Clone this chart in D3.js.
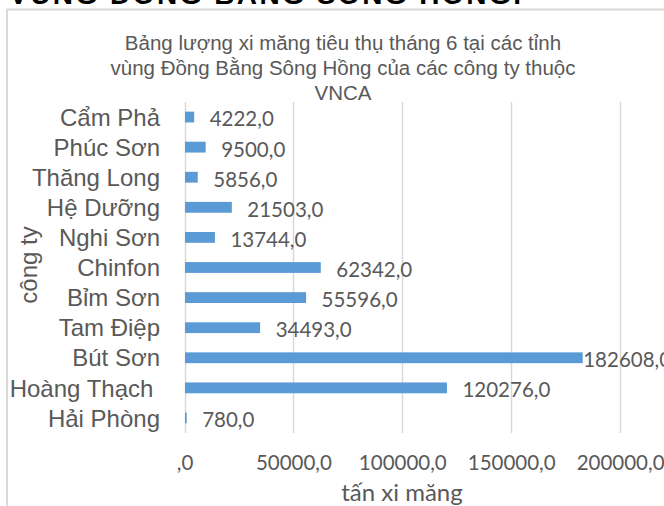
<!DOCTYPE html>
<html>
<head>
<meta charset="utf-8">
<script src="https://cdn.jsdelivr.net/npm/d3@7"></script>
<style>
  body { margin: 0; background: #fff; }
  svg { display: block; }
  .cat text { font-family: "Liberation Sans", Arial, sans-serif; font-size: 24px; fill: #595959; white-space: pre; }
  .val text { font-family: Lato, "Open Sans", sans-serif; font-size: 20.5px; fill: #595959; }
</style>
</head>
<body>
<div id="chart"></div>
<script>
// data
const companies = ["Cẩm Phả", "Phúc Sơn", "Thăng Long", "Hệ Dưỡng", "Nghi Sơn", "Chinfon",
                   "Bỉm Sơn", "Tam Điệp", "Bút Sơn", "Hoàng Thạch ", "Hải Phòng"];
const tonnes = [4222, 9500, 5856, 21503, 13744, 62342, 55596, 34493, 182608, 120276, 780];
const xTicks = [0, 50000, 100000, 150000, 200000, 250000];
const titleLines = ["Bảng lượng xi măng tiêu thụ tháng 6 tại các tỉnh",
                    "vùng Đồng Bằng Sông Hồng của các công ty thuộc",
                    "VNCA"];
const heading = "VÙNG ĐỒNG BẰNG SÔNG HỒNG.";

const W = 664, H = 506;
const plot = { left: 184.5, top: 102, bottom: 433 };

const svg = d3.select("#chart").append("svg")
    .attr("width", W)
    .attr("height", H);

// heading of the document, mostly cut off at the top
svg.append("text")
    .attr("x", 9)
    .attr("y", 4)
    .attr("font-family", "Liberation Sans, Arial, sans-serif")
    .attr("font-weight", "bold")
    .attr("font-size", 28)
    .attr("textLength", 512)
    .attr("fill", "#000")
    .text(heading);

// chart frame (right and bottom edges are outside the picture)
svg.append("rect")
    .attr("x", 7)
    .attr("y", 9.5)
    .attr("width", 700)
    .attr("height", 520)
    .attr("fill", "none")
    .attr("stroke", "#d9d9d9")
    .attr("stroke-width", 2);

// scales
const x = d3.scaleLinear()
    .domain([0, 250000])
    .range([plot.left, plot.left + 5 * 108.9]);

const y = d3.scaleBand()
    .domain(companies)
    .range([plot.top, plot.bottom])
    .paddingInner(0.64)
    .paddingOuter(0.32);

const data = companies.map((c, i) => ({ name: c, value: tonnes[i] }));

// vertical gridlines
svg.append("g")
  .selectAll("line")
  .data(xTicks)
  .join("line")
    .attr("x1", d => Math.round(x(d)) + 0.5)
    .attr("x2", d => Math.round(x(d)) + 0.5)
    .attr("y1", plot.top)
    .attr("y2", plot.bottom)
    .attr("stroke", "#d9d9d9")
    .attr("stroke-width", 1.5);

// bars
svg.append("g")
  .selectAll("rect")
  .data(data)
  .join("rect")
    .attr("x", x(0) + 0.5)
    .attr("y", d => y(d.name))
    .attr("width", d => x(d.value) - x(0))
    .attr("height", y.bandwidth())
    .attr("fill", "#5b9bd5");

// data labels
const maxVal = d3.max(tonnes);
svg.append("g")
    .attr("class", "val")
  .selectAll("text")
  .data(data)
  .join("text")
    .attr("x", d => x(d.value) + (d.value === maxVal ? 1 : 16))
    .attr("y", d => y(d.name) + y.bandwidth() / 2 + 2)
    .attr("dy", "0.36em")
    .text(d => d3.format(".1f")(d.value).replace(".", ","));

// x axis (tick labels only)
const xAxis = svg.append("g")
    .attr("class", "val")
    .attr("transform", `translate(0,${plot.bottom})`)
    .call(d3.axisBottom(x)
        .tickValues(xTicks)
        .tickSize(0)
        .tickPadding(22)
        .tickFormat(d => d === 0 ? ",0" : d + ",0"));
xAxis.select(".domain").remove();
xAxis.selectAll("text").attr("font-family", null).attr("font-size", null);

// y axis (category labels)
const yAxis = svg.append("g")
    .attr("class", "cat")
    .attr("transform", `translate(${plot.left},0)`)
    .call(d3.axisLeft(y).tickSize(0).tickPadding(24.5));
yAxis.select(".domain").remove();
yAxis.selectAll("text").attr("font-family", null).attr("font-size", null).attr("dy", "0.36em");

// chart title
svg.append("g")
  .selectAll("text")
  .data(titleLines)
  .join("text")
    .attr("x", 343)
    .attr("y", (d, i) => 50 + i * 25)
    .attr("text-anchor", "middle")
    .attr("font-family", "Liberation Sans, Arial, sans-serif")
    .attr("font-size", 20.5)
    .attr("fill", "#595959")
    .text(d => d);

// axis titles
svg.append("text")
    .attr("x", 402)
    .attr("y", 501)
    .attr("text-anchor", "middle")
    .attr("font-family", "Lato, sans-serif")
    .attr("font-size", 24)
    .attr("fill", "#595959")
    .text("tấn xi măng");

svg.append("text")
    .attr("transform", "translate(37,265) rotate(-90)")
    .attr("text-anchor", "middle")
    .attr("font-family", "Liberation Sans, Arial, sans-serif")
    .attr("font-size", 24)
    .attr("fill", "#595959")
    .text("công ty");
</script>
</body>
</html>
